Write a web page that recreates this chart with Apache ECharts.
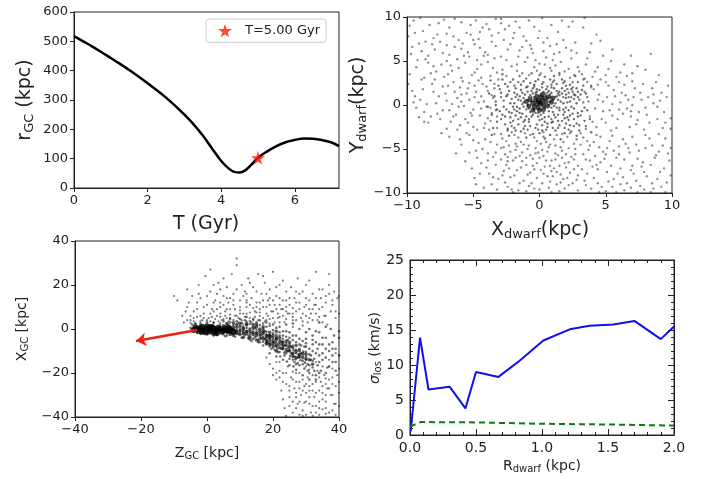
<!DOCTYPE html>
<html lang="en">
<head>
    <meta charset="UTF-8">
    <title>dwarf orbit panels</title>
    <script src="https://cdn.jsdelivr.net/npm/echarts@6/dist/echarts.min.js"></script>
    <style>
        html, body { margin: 0; padding: 0; background: #fff; }
        #main { width: 707px; height: 479px; }
    </style>
</head>
<body>
<div id="main"></div>
<script>
// panel 1: orbit r_GC(T)
var orbitT = [0, 0.25, 0.5, 0.75, 1, 1.25, 1.5, 1.75, 2, 2.25, 2.5, 2.75, 3, 3.25, 3.5, 3.75, 4, 4.2, 4.35, 4.5, 4.65, 4.8, 5, 5.25, 5.5, 5.75, 6, 6.25, 6.5, 6.75, 7, 7.2];
var orbitR = [518, 500, 482, 463, 443, 423, 402, 380, 357, 333, 308, 280, 250, 217, 179, 135, 92, 67, 55, 53, 60, 77, 103, 125, 143, 156, 164, 169, 168, 163, 155, 143];
var starT = 5.0;
var starR = 103;

// panel 2: particles in dwarf frame (x, y kpc)
var dwarfCore = [[0,0.3],[0.2,0.5],[-0.2,0.1],[0.3,0],[-0.3,0.6],[0.1,0.9],[-0.1,-0.3],[0.5,0.4],[-0.5,0.2],[0.4,0.8],[-0.4,-0.2],[0.6,-0.1],[0,-0.6],[-0.7,0.6],[0.7,0.9],[0.2,1.2],[-0.2,1],[-0.8,-0.1],[0.9,0.3],[0.3,-0.5],[-0.5,-0.6],[1,0.8],[-1,0.4],[0.1,0.1],[-0.1,0.5]];
var dwarfInner = [[-1.2,0.8],[-1.5,-0.4],[-0.9,1.5],[1.3,1.6],[1.8,0.9],[2.2,1.4],[2.6,0.7],[1.5,-0.3],[1.1,-1.1],[0.4,-1.4],[-0.6,-1.3],[-1.3,-1.0],[-1.9,0.2],[-2.3,-0.8],[-1.7,1.2],[-0.5,1.9],[0.6,2.1],[1.0,2.6],[2.0,2.2],[2.8,1.9],[3.1,1.2],[2.4,-0.2],[2.9,-0.9],[1.9,-1.5],[0.9,-2.0],[-0.2,-2.2],[-1.1,-2.4],[-2.0,-1.8],[-2.7,-0.2],[-2.5,1.0],[-1.4,2.3],[-0.3,2.7],[0.3,1.5],[0.8,1.2],[1.6,0.4],[-0.8,0.9],[-1.0,-0.5],[0.7,-0.7],[-0.3,-0.9],[1.2,0.2],[2.3,-1.2],[3.4,-1.8],[2.6,-2.4],[1.4,-2.6],[0.2,-2.9],[-0.9,-2.8],[-1.8,-2.9],[-2.9,-1.6],[-3.3,0.4],[-3.0,1.8],[-2.2,2.6],[-1.0,3.0],[0.4,3.2],[1.7,2.9],[2.5,2.6],[3.3,0.3],[3.6,-0.6],[3.0,-2.9],[1.9,-3.2],[0.8,-3.4],[-0.5,-3.3],[-2.4,-2.7],[-3.6,-1.1],[-3.8,1.3],[1.0,0.6],[0.5,1.8],[-0.6,0.4],[1.7,1.9],[2.1,0.3],[-1.6,-1.6],[0.0,-1.7],[1.4,-1.8],[-2.1,0.7],[-0.4,2.3],[2.7,1.1],[1.1,3.3],[-1.8,1.9],[-0.8,-1.9],[0.6,-2.5],[2.0,-2.1],[0.9,-0.3],[-0.7,-0.8],[1.5,1.1],[-1.3,0.1],[0.2,2.4],[2.4,1.8],[1.9,-0.8],[-0.1,-1.3],[-1.6,0.6],[0.4,-1.9],[1.2,-1.4],[-2.6,-1.3],[3.0,0.6],[-0.5,1.3],[1.8,2.5],[2.2,-1.7],[-1.2,-1.9],[-2.9,0.9],[0.9,2.3],[-1.9,-0.5],
    [-2.8,2.9],[-2.4,2.1],[-2.0,2.9],[-1.6,2.6],[-1.2,2.7],[-0.7,2.5],[-0.1,2.9],[0.3,2.6],[0.8,2.9],[1.3,2.4],[1.9,2.7],[2.3,2.3],[2.9,2.6],[-2.9,1.4],[-2.3,1.6],[-1.9,1.4],[-1.4,1.7],[-1.0,2.0],[-0.6,1.6],[-0.2,1.8],[0.2,2.0],[0.7,1.6],[1.1,1.9],[1.5,1.5],[2.1,1.8],[2.5,1.5],[2.9,1.5],[-2.7,0.5],[-2.2,0.2],[-1.8,0.9],[-1.4,0.5],[-1.1,1.2],[-0.7,1.1],[-0.3,1.4],[0.4,1.3],[0.9,1.4],[1.3,1.0],[1.7,1.3],[2.0,0.8],[2.4,0.9],[2.8,0.2],[-2.5,-0.5],[-2.0,-0.2],[-1.7,-0.7],[-1.2,-0.2],[-0.9,0.0],[1.1,-0.1],[1.4,0.6],[1.8,0.2],[2.2,-0.6],[2.6,-0.4],[-2.8,-1.1],[-2.2,-1.4],[-1.8,-1.2],[-1.4,-1.4],[-1.0,-1.3],[-0.5,-1.1],[-0.1,-0.9],[0.3,-0.9],[0.7,-1.3],[1.0,-0.8],[1.4,-1.1],[1.8,-1.1],[2.1,-1.4],[2.6,-1.6],[2.9,-1.3],[-2.6,-2.2],[-2.1,-2.4],[-1.6,-2.2],[-1.2,-2.7],[-0.7,-2.4],[-0.3,-2.6],[0.2,-2.3],[0.6,-2.1],[1.0,-2.6],[1.5,-2.3],[1.9,-2.6],[2.3,-2.3],[2.8,-2.1],[-2.4,-2.9],[-1.4,-3.0],[-0.1,-2.8],[1.2,-2.9],[2.4,-3.0],[0.6,0.8],[-0.9,0.6],[0.7,0.0],[-0.4,-0.5],[0.4,-0.3],[-0.6,0.9],[0.8,0.4],[-1.2,0.3],[1.2,0.9],[-0.2,1.5],[0.5,1.1],[-0.8,-0.4],[0.1,-1.1],[1.5,-0.6],[-1.5,1.0],[1.9,1.6],[2.3,0.4],[-2.1,-0.9],[-1.1,-1.7],[0.9,-1.6],[1.7,-1.8],[2.6,1.2],[-1.9,2.2],[-0.4,2.1],[0.9,2.0],[2.0,-0.3],[3.2,1.7],[3.4,-0.3],[3.1,-1.2],[3.6,0.9],[3.3,2.2],[-3.2,-0.5],[-3.4,1.0],[-3.1,2.2],[-3.2,-1.9],[3.5,-2.4],
    [-3.7,2.8],[-3.5,-2.6],[-3.9,-0.2],[-3.0,-0.7],[-2.6,2.4],[-2.2,-2.0],[-1.7,-0.2],[-1.3,1.4],[-0.8,-1.6],[-0.4,0.9],[0.2,-1.6],[0.6,1.4],[1.0,-1.9],[1.4,1.3],[1.8,-0.5],[2.2,0.9],[2.5,-1.0],[2.9,0.9],[3.2,-0.7],[3.5,1.3],[3.8,-1.6],[3.9,2.2],[3.4,3.0],[2.7,3.3],[1.5,3.6],[0.0,3.4],[-1.5,3.3],[-2.8,3.5],[-3.6,-3.4],[-2.3,-3.5],[-1.0,-3.7],[0.4,-3.8],[1.6,-3.9],[2.8,-3.5],[3.9,-3.1],[1.3,-0.3],[-1.5,-0.9],[0.0,1.7],[0.5,-2.8],[-0.9,2.1],[2.0,1.2],[-2.4,1.2],[2.5,2.0],[-1.9,-2.6],[1.1,2.8],[3.0,-2.3],[-3.3,0.0],[0.0,-3.2],[2.2,-2.8],[-0.6,3.6]];
var dwarfOuter = [[-9.5,9.6],[-8.8,8.4],[-7.6,9.3],[-6.4,9.8],[-5.2,9.1],[-9.1,7.0],[-8.0,7.6],[-7.0,8.1],[-6.1,7.4],[-5.5,8.2],[-4.3,8.8],[-3.6,7.9],[-9.7,5.8],[-8.6,5.2],[-7.9,6.3],[-6.8,5.7],[-5.9,6.4],[-4.9,6.9],[-4.1,6.0],[-3.3,6.7],[-9.3,4.3],[-8.2,3.6],[-7.4,4.6],[-6.6,3.9],[-5.6,4.8],[-4.7,4.1],[-3.9,4.9],[-3.2,3.7],[-7.2,3.2],[-5.1,3.4],[-4.4,3.1],[-6.2,5.2],[-4.2,5.6],[-8.4,4.8],[-5.8,7.0],[-3.4,5.3],[-7.0,6.8],[-9.9,7.8],[-4.6,7.5],[-3.8,8.6],[-2.9,9.3],
    [-9.8,9.0],[-9.0,9.9],[-8.3,9.1],[-7.2,9.7],[-6.8,8.8],[-5.9,9.4],[-4.8,9.6],[-4.0,9.2],[-3.3,9.8],[-9.4,8.2],[-8.6,7.2],[-7.7,8.0],[-6.5,7.8],[-5.2,8.0],[-4.5,8.3],[-3.1,8.2],[-9.6,6.6],[-8.9,6.1],[-8.1,6.9],[-7.3,5.9],[-6.4,6.6],[-5.4,6.0],[-4.5,6.5],[-3.6,7.2],[-9.2,5.1],[-8.0,4.4],[-7.0,5.0],[-6.1,4.2],[-5.3,5.5],[-4.4,4.6],[-3.5,4.2],[-9.8,3.5],[-8.7,3.1],[-7.8,3.8],[-6.9,3.5],[-5.9,3.1],[-4.9,3.7],[-3.7,3.3],[-7.5,7.2],[-5.0,7.4],[-3.9,5.7],[-6.7,4.5],[-8.4,5.6],[-4.7,5.1],[-5.7,5.6],
    [-2.6,8.6],[-1.8,9.5],[-1.2,7.8],[-0.4,8.9],[0.6,7.6],[1.4,8.3],[0.2,9.9],[-2.2,6.9],[-1.5,6.2],[-0.7,6.8],[0.3,6.1],[1.1,5.8],[2.0,6.5],[2.7,7.1],[-2.5,5.1],[-1.7,4.6],[-0.9,5.4],[0.0,4.7],[0.8,4.2],[1.6,4.9],[2.4,5.3],[2.9,4.3],[-2.8,4.0],[-1.3,3.6],[-0.2,3.9],[1.9,3.8],[2.6,3.4],[-0.5,5.9],[1.3,6.9],[2.2,8.9],[-2.0,7.6],
    [-2.9,9.8],[-2.3,9.0],[-1.5,8.8],[-0.8,9.6],[0.0,8.4],[0.9,9.1],[1.7,9.6],[2.5,9.5],[-2.7,7.4],[-1.9,8.2],[-1.0,7.3],[-0.1,7.6],[0.8,6.7],[1.8,7.4],[2.4,6.2],[-2.4,6.3],[-1.6,5.5],[-0.6,6.4],[0.5,5.4],[1.5,6.0],[2.8,5.9],[-2.9,5.5],[-2.1,4.4],[-1.1,4.9],[-0.4,4.3],[0.4,4.6],[1.2,4.5],[2.2,4.1],[-2.5,3.3],[-1.7,3.9],[-0.8,3.4],[0.1,3.6],[0.9,3.9],[1.5,3.4],[2.3,3.1],[3.0,3.8],[-0.3,5.1],[1.0,5.1],[-1.3,6.6],[0.3,7.1],
    [3.5,4.6],[4.2,3.8],[5.0,3.4],[3.8,6.0],[4.6,7.3],[6.1,3.7],[7.4,4.4],[3.3,8.8],[5.4,5.0],[8.4,5.8],[4.0,3.2],[6.6,3.3],
    [3.2,3.5],[3.6,5.3],[4.4,4.3],[5.2,4.1],[5.8,3.2],[4.8,5.6],[6.4,4.6],[7.0,3.6],[3.9,7.0],[5.5,6.3],[8.0,4.0],[9.0,3.4],[6.9,5.6],[4.3,8.0],[3.4,9.9],
    [-9.6,1.6],[-9.0,0.6],[-8.7,-0.8],[-8.1,2.4],[-7.8,0.2],[-7.5,-1.6],[-7.1,1.3],[-6.8,-0.6],[-6.5,2.6],[-6.2,0.8],[-6.0,-2.3],[-5.7,-0.1],[-5.4,1.9],[-5.1,-1.2],[-4.9,0.9],[-4.6,2.8],[-4.4,-0.4],[-4.1,-2.1],[-3.9,1.6],[-3.6,-0.9],[-3.4,2.4],[-3.2,-2.6],[-8.4,-2.0],[-9.3,-0.3],[-7.0,-2.7],[-5.9,1.2],[-4.7,-2.8],[-6.6,0.1],[-5.3,2.5],[-4.2,0.4],[-3.7,-1.8],[-7.3,2.1],[-8.9,2.9],[-6.3,-1.1],[-5.0,-0.5],[-4.0,2.1],[-3.5,0.8],
    [-9.9,2.4],[-9.4,1.0],[-9.1,-1.4],[-8.8,1.8],[-8.5,0.1],[-8.2,-1.3],[-7.9,2.9],[-7.6,1.0],[-7.3,-0.6],[-6.9,2.2],[-6.7,-1.9],[-6.4,1.5],[-6.1,-0.2],[-5.8,2.7],[-5.6,-1.6],[-5.3,0.6],[-5.0,-2.5],[-4.8,1.5],[-4.5,-1.2],[-4.3,2.4],[-4.0,-0.2],[-3.8,-2.8],[-3.6,1.1],[-3.3,-0.6],[-3.1,2.9],[-3.9,-1.5],[-4.6,0.3],[-5.2,-0.9],[-5.5,1.3],[-6.0,2.0],[-6.5,-1.3],[-7.0,0.5],[-7.7,-1.0],[-8.0,1.5],[-8.7,-1.9],[-9.5,0.3],[-3.4,1.9],[-3.7,-0.3],[-4.2,-2.6],[-4.9,2.2],[-5.4,-2.0],[-6.2,-2.8],[-3.2,-1.3],[-4.4,1.0],[-5.9,0.4],
    [3.6,2.6],[4.1,1.8],[4.4,0.6],[4.8,-0.7],[5.2,2.2],[5.5,0.1],[5.9,-1.6],[6.2,1.4],[6.6,-0.4],[7.0,2.7],[7.3,-2.2],[7.7,0.6],[8.1,-1.1],[8.5,1.9],[8.9,-0.2],[9.3,-2.6],[9.6,0.9],[9.9,-1.5],[3.8,-1.3],[4.3,-2.5],[5.0,-2.0],[5.7,1.0],[6.4,2.3],[6.9,-1.3],[7.9,-2.8],[8.6,0.2],[9.2,1.4],[3.4,1.5],[4.6,2.9],[5.4,-2.9],[6.0,-0.5],[7.1,0.9],
    [3.3,2.9],[3.7,0.4],[3.9,2.0],[4.2,-0.4],[4.5,1.2],[4.7,-1.6],[5.0,2.6],[5.3,-0.6],[5.6,1.7],[5.8,-2.6],[6.1,0.3],[6.3,-1.0],[6.5,1.1],[6.8,-2.5],[7.0,0.0],[7.2,1.9],[7.5,-0.8],[7.8,2.4],[8.0,-0.3],[8.3,-2.0],[8.6,1.2],[8.9,-1.6],[9.1,0.5],[9.4,-0.8],[9.7,2.2],[9.9,-2.7],[4.0,-1.9],[4.8,0.4],[5.5,-1.2],[6.0,2.6],[6.7,0.6],[7.4,-1.7],[8.2,0.9],[8.8,2.6],[9.5,-2.0],[3.5,-2.7],[4.4,2.3],[5.1,0.9],[6.9,-0.7],[7.6,1.4],
    [-6.8,-3.6],[-5.9,-4.5],[-5.3,-3.4],[-4.8,-5.2],[-4.4,-6.6],[-4.1,-3.9],[-3.8,-7.8],[-3.5,-5.9],[-3.2,-4.5],[-5.6,-6.4],[-4.9,-8.3],[-4.2,-9.4],[-3.6,-9.0],[-6.3,-5.5],[-3.3,-6.8],[-5.1,-7.2],[-4.6,-4.3],[-3.9,-5.5],[-7.4,-3.2],[-3.1,-8.4],
    [-5.5,-3.2],[-5.0,-4.0],[-4.3,-5.0],[-3.7,-4.2],[-3.4,-3.3],[-4.7,-6.0],[-4.0,-7.1],[-3.5,-8.2],[-3.2,-9.6],[-4.5,-7.8],[-5.3,-5.4],[-6.0,-3.9],[-3.9,-6.3],[-3.3,-5.4],[-4.8,-9.0],
    [-2.8,-3.8],[-2.3,-4.6],[-1.9,-3.4],[-1.4,-4.2],[-0.9,-5.0],[-0.4,-3.7],[0.1,-4.4],[0.6,-5.3],[1.1,-3.9],[1.6,-4.8],[2.1,-3.6],[2.6,-4.4],[-2.6,-5.6],[-2.0,-6.3],[-1.5,-5.8],[-1.0,-6.8],[-0.5,-6.1],[0.0,-6.0],[0.4,-7.0],[0.9,-6.3],[1.4,-5.7],[1.9,-6.6],[2.4,-5.9],[2.9,-6.9],[-2.7,-7.5],[-2.2,-8.2],[-1.7,-7.4],[-1.2,-8.6],[-0.7,-7.7],[-0.2,-8.3],[0.3,-7.8],[0.8,-8.7],[1.3,-7.6],[1.8,-8.4],[2.3,-7.7],[2.8,-8.5],[-2.4,-9.3],[-1.6,-9.7],[-0.8,-9.2],[0.0,-9.6],[0.7,-9.4],[1.5,-9.8],[2.2,-9.1],[2.9,-9.7],[-1.1,-3.2],[0.3,-3.1],[1.7,-3.3],[-2.9,-4.9],[2.7,-5.0],[-0.3,-4.9],[1.2,-4.6],[-1.8,-5.1],[2.0,-7.1],[-2.5,-6.8],[0.5,-6.3],[-0.6,-8.9],[1.0,-8.1],[-2.0,-9.9],
    [-2.9,-3.3],[-2.5,-4.1],[-2.1,-3.1],[-1.6,-3.7],[-1.2,-4.5],[-0.7,-3.4],[-0.2,-4.1],[0.3,-3.6],[0.8,-4.5],[1.3,-3.4],[1.8,-4.2],[2.3,-3.2],[2.8,-3.9],[-2.7,-4.8],[-2.2,-5.3],[-1.7,-4.7],[-1.3,-5.4],[-0.8,-4.6],[-0.3,-5.5],[0.2,-5.1],[0.7,-4.8],[1.2,-5.5],[1.7,-5.2],[2.2,-4.9],[2.7,-5.6],[-2.9,-6.2],[-2.4,-6.4],[-1.8,-6.0],[-1.3,-6.4],[-0.7,-5.7],[-0.2,-6.6],[0.3,-5.8],[0.8,-6.9],[1.2,-6.2],[1.7,-6.0],[2.2,-6.5],[2.6,-6.2],[-2.8,-8.0],[-2.3,-7.2],[-1.9,-8.0],[-1.4,-7.1],[-0.9,-7.9],[-0.4,-7.3],[0.1,-7.4],[0.6,-8.1],[1.1,-7.2],[1.6,-7.9],[2.1,-8.3],[2.6,-7.3],[-2.6,-8.8],[-2.1,-9.6],[-1.5,-8.9],[-1.0,-9.8],[-0.4,-9.5],[0.2,-8.9],[0.9,-9.9],[1.3,-9.0],[1.9,-9.5],[2.5,-8.9],[2.9,-8.0],[-0.1,-5.4],[0.5,-4.2],[1.5,-6.9],[-1.0,-6.0],[2.0,-5.6],[-1.8,-4.4],[0.9,-7.5],[-2.4,-5.9],[1.6,-8.8],[-0.5,-6.9],
    [3.3,-3.7],[3.8,-4.6],[4.3,-3.4],[4.8,-5.3],[5.3,-4.1],[5.8,-6.0],[6.3,-3.9],[6.8,-5.4],[7.3,-4.5],[7.8,-6.5],[8.3,-3.8],[8.8,-5.7],[9.3,-4.6],[9.8,-6.3],[3.5,-6.2],[4.0,-7.0],[4.6,-6.5],[5.1,-7.6],[5.6,-8.4],[6.1,-7.2],[6.6,-8.9],[7.1,-7.8],[7.6,-9.2],[8.1,-8.1],[8.6,-9.5],[9.1,-7.6],[9.6,-8.8],[3.4,-8.6],[3.9,-9.5],[4.4,-8.9],[5.0,-9.8],[5.5,-9.3],[6.4,-9.7],[7.4,-9.9],[8.4,-9.9],[9.5,-9.9],[3.7,-5.1],[4.5,-4.8],[5.6,-5.2],[7.0,-6.9],[8.0,-4.9],[9.0,-3.3],[6.0,-4.7],[4.2,-5.8],[3.2,-7.3],
    [3.1,-3.2],[3.6,-4.1],[4.1,-4.2],[4.6,-3.6],[5.1,-4.9],[5.5,-3.5],[6.0,-5.6],[6.5,-4.4],[7.0,-3.6],[7.5,-5.2],[8.0,-3.4],[8.5,-4.6],[9.0,-5.3],[9.5,-3.8],[9.9,-4.9],[3.3,-5.6],[3.8,-6.3],[4.4,-7.3],[4.9,-6.1],[5.4,-6.9],[5.9,-7.8],[6.4,-6.2],[6.9,-7.4],[7.4,-6.1],[7.9,-7.6],[8.4,-6.8],[8.9,-8.4],[9.4,-7.2],[9.9,-8.0],[3.6,-7.8],[4.1,-8.3],[4.7,-9.3],[5.2,-8.7],[5.8,-9.9],[6.3,-8.2],[6.9,-9.4],[7.3,-8.6],[7.9,-9.6],[8.5,-8.9],[9.2,-9.3],[3.5,-9.1],[4.5,-9.9],[6.1,-9.0],[7.7,-7.0],[8.7,-6.0],[9.7,-5.5],[5.0,-5.6],[6.7,-4.9],[4.3,-6.8],[3.1,-4.5]];

// panel 3: particles in galactocentric frame (Z, X kpc)
var gcCore = [[-3,0],[-2,0.5],[-1,-0.3],[0,0.2],[1,-0.5],[2,0.3],[3,-0.4],[4,0],[5,-0.6],[-2.5,-0.8],[-1.5,1],[0.5,-1.2],[1.5,0.9],[2.5,-1.1],[3.5,0.7],[-0.5,-1.5],[4.5,-1.3],[6,-0.8],[-3.5,0.8],[0,1.3],[7,-0.5],[2,-1.7],[-4,-0.5],[1,0.8],[5.5,0.3],[3,-1.8],[-1.5,-1.2],[6.5,0.5],[8,-1.2]];
var gcBand = [[6,0.5],[7,-1.5],[8,0.8],[9,-1],[10,-2.5],[10,1.2],[11,-0.5],[12,-2],[13,0],[13,-3.5],[14,-1.5],[15,-3],[15,1],[16,-4.5],[17,-2],[18,-4],[17,0],[19,-5.5],[12,1.8],[8,-2.8],[9,2],[14,2],[11,-3.8],[16,-1],[18,-6.5],[20,-5],[20,-7.5],[21,-3.5],[22,-8.5],[23,-6],[24,-10],[25,-8],[26,-11],[27,-13],[28,-11.5],[21,-10],[19,-3],[15,-5],
    [5,1.5],[6,-1.2],[7,1],[8,-0.3],[9,0.8],[10,-0.8],[11,0.3],[12,-1.2],[13,-1],[14,-2.5],[14,0.8],[15,-2],[16,-2.3],[16,0],[17,-4.5],[17,-1.2],[18,-3],[18,-5.5],[19,-4],[19,-7],[20,-3],[20,-6.3],[21,-6.8],[21,-4.5],[22,-6],[22,-4],[23,-7.5],[23,-9],[24,-7.5],[24,-5.5],[25,-10],[25,-6],[26,-8.5],[26,-12.5],[27,-10.2],[27,-7.5],[28,-12.5],[28,-9.8],[29,-13],[29,-11],[30,-13.5],[30,-11.5],[31,-14],[32,-16],[13,-4.5],[11,-2],[9,-2],[7,-2.5],[12,2.5],[10,2.5],[15,2],[17,1],[19,-1.5],[21,-1],[8,2.8],[6,2.5]];
var gcStream = [[16,-6],[17,-7.5],[18,-2.5],[18.5,-6.5],[19,-8],[19.5,-3.5],[20,-6],[20.5,-9.5],[21,-4.5],[21.5,-7.5],[22,-10.5],[22.5,-5.5],[23,-8.5],[23.5,-12],[24,-6.5],[24.5,-10],[25,-13.5],[25.5,-8],[26,-11.5],[26.5,-15],[27,-9.5],[27.5,-13],[28,-16.5],[28.5,-11],[29,-14.5],[29.5,-18],[30,-12.5],[30.5,-16],[31,-20],[31.5,-14],[32,-17.5],[33,-21],[20,-2],[22,-3],[24,-3.5],[26,-5],[28,-7],[30,-8],[32,-10],[34,-12],[19,-11],[21,-12.5],[23,-14],[25,-16.5],[27,-18.5],[29,-21],[31,-23],[17.5,-4.5],[19.2,-6.8],[21.3,-9],[23.4,-10.8],[25.2,-12.2],[26.8,-13.8],[28.3,-14.2],[29.7,-15.3],[22.7,-7],[24.6,-8.7],[26.3,-9.7],[15.5,-5.2],[14.5,-3.8],[13.5,-5.5],[12.5,-4.2],[11.5,-2.8],[10.5,-4],[16.5,-2.8],[18.2,-5.2],[20.8,-7.8],[22.2,-12.5],[24.2,-14.8],[26.2,-17],[27.8,-11.8],[29.2,-10.2],[31,-11.5],[32.5,-13.5],[33.5,-16.5],[34.5,-19],[35,-14],[36,-9],[33,-6],[35,-4],[37,-7],[38,-12],[36.5,-17.5],[39,-15],[38.5,-3],[37.5,0],[34,-1.5],[32,-3],[30,-4.5],[27,-3],[25,-1.5],[23,-1],[21,0.5],[19,1.5],[17,2.5],[15,3],[13,3.5],
    [5,-2.5],[6,-3],[6.5,2],[7,3],[7.5,-2],[8,1.8],[8.5,-3.5],[9,3.5],[9.5,-2.2],[10,0],[10.5,2.8],[11,-1.5],[11.5,4],[12,-0.8],[12.5,-3],[13,2.3],[13.5,-1.8],[14,-4.5],[14.5,0.5],[15,-1.5],[15.5,-6],[16,1.8],[16.5,-4],[17,-5.8],[17.5,-1],[18,-7],[18,1],[18.5,-3],[19,-4.5],[19.5,-9],[20,-0.5],[20,-4],[20.5,-6],[21,-2.5],[21,-8],[21.5,-10.5],[22,-5],[22,-7],[22.5,-9],[23,-3],[23,-6],[23.5,-7.5],[24,-11],[24,-1],[24.5,-5],[25,-7],[25,-9.5],[25.5,-11],[26,-3],[26,-7.5],[26.5,-12.5],[27,-6],[27,-11],[27.5,-15.5],[28,-9],[28,-13],[28.5,-7.5],[29,-12],[29,-16],[29.5,-8],[30,-10.5],[30,-14],[30.5,-19],[31,-9],[31,-16.5],[31.5,-12],[32,-14.5],[32,-7],[32.5,-19],[33,-11],[33,-23],[33.5,-9],[34,-15],[34,-20],[35,-11],[35,-7],[36,-13],[36,-20],[37,-10],[37,-17],[38,-6],[38,-15],[39,-9],[39,-19],[40,-12],[40,-4],[9,-0.5],[11,1],[13,-2.2],[15,-0.3],[16,-3.2],[17,-3.5],[18,-1.2],[19,-2.8],[20,-8.5],[21,-5.5],[22,-1.5],[23,-4.5],[24,-9],[25,-4],[26,-14],[27,-16],[28,-4.5],[29,-5.5],[30,-6.5],[12,0.5],[14,-0.2],[10,-1.3],[7.5,0.2],[8.5,-1.8],[6.5,-1.8],[5.5,-3.3],[3,-2.8],[2,-3],[0,-2.5],[-2,-2.2],[-3,-1.8],[-4,-1],[-5,0.5],[-4.5,2],[-3.5,2.5],[-2,2.5],[0,3],[2,2.8],[4,2.5],[5,3.5],[7,4.5],[10,4.5],[12,5.5],[14,4.5],[16,4],[18,3],[20,2],[22,1],[24,2],[26,2.5],[28,0],[30,-1.5],[32,-5],[34,-7],[36,-4],[38,-9],[40,-1],[36,1],[34,3],[31,0],[33,-1]];
var gcUpper = [[-7,3],[-6.5,8],[-5.5,12],[-6,18],[-4,5],[-3,9],[-2,14],[-1.5,4],[-4.5,15],[-10,15],[-9,13],[-2.5,20],[-1,7],[0,11],[0.5,5],[1,17],[1.5,9],[2,3],[2.5,13],[3,6],[3.5,21],[4,10],[4.5,4],[5,15],[5.5,8],[6,19],[6.5,12],[7,5],[7.5,25],[8,16],[8.5,9],[9,32],[9,29],[9.5,3],[10,13],[10.5,20],[11,7],[11.5,17],[12,10],[12.5,23],[13,5],[13.5,14],[14,19],[14.5,8],[15,12],[15.5,25],[16,6],[16.5,16],[17,10],[17.5,21],[18,4],[18.5,13],[19,18],[19.5,8],[20,26],[20.5,11],[21,15],[21.5,5],[22,20],[22.5,9],[23,13],[23.5,3],[24,17],[24.5,7],[25,11],[25.5,19],[26,4],[26.5,14],[27,8],[27.5,23],[28,12],[28.5,5],[29,17],[29.5,10],[30,20],[30.5,3],[31,13],[31.5,7],[32,16],[32.5,11],[33,26],[33.5,4],[34,9],[34.5,14],[35,18],[35.5,6],[36,12],[36.5,2],[37,16],[37.5,8],[38,11],[38.5,17],[39,5],[39.5,14],[1,27],[-0.5,24],[4,18],[7,14],[11,2],[19,2.5],[26,1],[29,1.5],[-5,6],[-3.5,2.5],[6,2],[12,13],[15,7.5],[22,3],[35,3],[40,7],
    [-7.5,6],[-6,10],[-5,4],[-4,8],[-3,12],[-2,6],[-1,10],[0,15],[1,7],[2,12],[3,16],[4,7],[5,11],[6,5],[7,9],[8,13],[9,6],[10,10],[11,15],[12,7],[13,11],[14,4],[15,17],[16,9],[17,13],[18,7],[19,11],[20,5],[21,9],[22,14],[23,6],[24,10],[25,14],[26,7],[27,12],[28,16],[29,7],[30,11],[31,5],[32,9],[33,14],[34,18],[35,10],[36,6],[37,20],[38,13],[39,8],[40,15],[3,9],[6,14],[9,18],[12,16],[15,10],[18,16],[21,19],[24,13],[27,17],[30,14],[33,7],[36,15],[-2.5,16],[2,20],[5,23],[13,21],[17,24],[23,22],[31,22],[37,25],[26,9.5],[19,14],
    [-6,4],[-5,2.8],[-4,3.5],[-3,5.5],[-2,3.5],[-1,5],[0,4],[1,3.5],[1.5,5.5],[2.5,4.5],[3.5,3.5],[4,5.5],[5,4.5],[5.5,6],[6.5,3.5],[7,6.5],[8,4],[8.5,6],[9.5,5],[10,7],[10.5,4],[11.5,5.5],[12,3.5],[13,7.5],[13.5,3],[14.5,5.5],[15.5,4],[16,7.5],[17,5],[17.5,3.5],[18.5,6],[19,4.5],[20,8],[20.5,3],[21.5,7],[22,5.5],[23,9],[24,4.5],[25,7],[26,5.5],[27,4],[28,9],[29,3.5],[30,6],[31,9],[32,4],[33,11],[34,5.5],[2,8],[4,12],[6,9],[8,11],[10,8.5],[12,12],[14,9.5],[16,12],[18,10],[20,13],[22,11],[24,8]];
var gcTail = [[20,-18],[21,-23],[22,-15],[22.5,-28],[23,-20],[23.5,-36],[24,-25],[24.5,-17],[25,-31],[25.5,-22],[26,-38],[26.5,-27],[27,-20],[27.5,-34],[28,-24],[28.5,-30],[29,-37],[29.5,-26],[30,-33],[30.5,-22],[31,-28],[31.5,-38],[32,-25],[32.5,-31],[33,-35],[33.5,-19],[34,-28],[34.5,-24],[35,-32],[35.5,-21],[36,-36],[36.5,-27],[37,-23],[37.5,-30],[38,-18],[38.5,-34],[39,-26],[39.5,-21],[40,-29],[28,-39],[30,-39],[32,-39.5],[34,-39],[36,-38.5],[24,-39.5],[26,-33],[28,-27],[30,-29],[32,-21],[34,-33],[36,-25],[38,-22],[31,-34],[29,-23],[27,-29],[25,-26],[23,-32],[21,-20],[33,-15],[35,-17],[37,-14],[39,-11],[40,-18],[36,-30],[38,-37],[27,-24],[31,-18.5],[29.5,-33.5],[33,-29],[35,-36.5],
    [18,-13],[19,-16],[20,-21],[21,-15],[22,-19],[23,-24],[24,-20],[25,-28],[26,-23],[27,-31],[28,-20],[29,-28],[30,-25],[31,-31],[32,-28],[33,-24],[34,-36],[35,-26],[36,-33],[37,-27],[38,-30],[39,-34],[40,-24],[27,-36],[29,-39.5],[33,-38],[37,-38],[25,-35],[31,-26],[35,-29],[39,-39],[22,-22],[30,-17],[34,-22],[38,-25],[40,-35],[26,-19.5],[28,-33],[32,-35],[36,-22.5]];
// velocity arrow (Z, X)
var arrowFrom = [-3, -0.5];
var arrowTo = [-21.5, -5.5];

// panel 4: velocity dispersion profiles
var sigmaR = [0.005, 0.076, 0.14, 0.30, 0.42, 0.50, 0.67, 0.83, 1.01, 1.21, 1.36, 1.54, 1.70, 1.90, 2.0];
var sigmaLos = [0.5, 13.9, 6.5, 6.9, 3.8, 9.0, 8.3, 10.6, 13.5, 15.1, 15.6, 15.8, 16.3, 13.7, 15.5];
var modelR = [0, 0.08, 0.5, 1.0, 1.5, 2.0];
var modelSigma = [1.2, 1.85, 1.8, 1.6, 1.5, 1.35];

var starPath = 'path://M50,0 L61,35 L98,35 L68,57 L79,91 L50,70 L21,91 L32,57 L2,35 L39,35 Z';
var FONT = 'DejaVu Sans';

function minus(v) {
    return String(v).replace('-', '\u2212');
}

function pairs(xs, ys) {
    return xs.map(function (x, i) { return [x, ys[i]]; });
}

// plain matplotlib-like axis, ticks outside
function mplAxis(grid, min, max, interval, extra) {
    var a = {
        gridIndex: grid, type: 'value', min: min, max: max, interval: interval,
        axisLine: { show: true, onZero: false, lineStyle: { color: '#222', width: 1 } },
        axisTick: { show: true, length: 4, lineStyle: { color: '#222' } },
        axisLabel: { color: '#222', fontSize: 13, fontFamily: FONT, margin: 6, formatter: minus },
        splitLine: { show: false }
    };
    for (var k in extra) a[k] = extra[k];
    return a;
}

function scatterSet(xi, data, size, color) {
    return {
        type: 'scatter', xAxisIndex: xi, yAxisIndex: xi, data: data,
        symbolSize: size, itemStyle: { color: color }, silent: true
    };
}

function label(x, y, rot, text, rich) {
    return {
        type: 'text', x: x, y: y, rotation: rot, silent: true,
        style: { text: text, rich: rich, align: 'center', verticalAlign: 'middle', fill: '#222' }
    };
}

var bigRich = {
    a: { fontSize: 19, fontFamily: FONT, fill: '#222' },
    s: { fontSize: 13, fontFamily: FONT, fill: '#222', padding: [9, 0, 0, 0] }
};
var smallRich = {
    a: { fontSize: 14, fontFamily: FONT, fill: '#222' },
    i: { fontSize: 14, fontFamily: FONT, fontStyle: 'italic', fill: '#222' },
    s: { fontSize: 10, fontFamily: FONT, fill: '#222', padding: [7, 0, 0, 0] }
};

var innerTick = { show: true, inside: true, length: 6, lineStyle: { color: '#222' } };
var innerMinor = { show: true, splitNumber: 5, length: 3, lineStyle: { color: '#222' } };

var myChart = echarts.init(document.getElementById('main'), null, { renderer: 'canvas' });

var option = {
    animation: false,
    backgroundColor: '#fff',
    grid: [
        { left: 74, top: 12, width: 265, height: 176, show: true, borderColor: '#222', borderWidth: 1 },
        { left: 407, top: 17, width: 265, height: 176, show: true, borderColor: '#222', borderWidth: 1 },
        { left: 75, top: 241, width: 264, height: 176, show: true, borderColor: '#222', borderWidth: 1 },
        { left: 410, top: 260, width: 264, height: 175, show: true, borderColor: '#222', borderWidth: 1 }
    ],
    xAxis: [
        mplAxis(0, 0, 7.2, 2, { axisLabel: { color: '#222', fontSize: 13, fontFamily: FONT, margin: 6, showMaxLabel: false } }),
        mplAxis(1, -10, 10, 5),
        mplAxis(2, -40, 40, 20),
        mplAxis(3, 0, 2, 0.5, {
            axisTick: innerTick, minorTick: innerMinor,
            axisLabel: { color: '#222', fontSize: 14, fontFamily: FONT, margin: 6, formatter: function (v) { return v.toFixed(1); } }
        }),
        mplAxis(3, 0, 2, 0.5, { position: 'top', axisTick: innerTick, minorTick: innerMinor, axisLabel: { show: false } })
    ],
    yAxis: [
        mplAxis(0, 0, 600, 100),
        mplAxis(1, -10, 10, 5),
        mplAxis(2, -40, 40, 20),
        mplAxis(3, 0, 25, 5, {
            axisTick: innerTick, minorTick: innerMinor,
            axisLabel: { color: '#222', fontSize: 14, fontFamily: FONT, margin: 6 }
        }),
        mplAxis(3, 0, 25, 5, { position: 'right', axisTick: innerTick, minorTick: innerMinor, axisLabel: { show: false } })
    ],
    legend: {
        data: [{ name: 'T=5.00 Gyr', icon: starPath }],
        left: 206, top: 19,
        itemWidth: 14, itemHeight: 14,
        padding: [5, 6, 5, 12],
        backgroundColor: 'rgba(255,255,255,0.8)',
        borderColor: '#cccccc', borderWidth: 1, borderRadius: 3,
        textStyle: { fontSize: 13, fontFamily: FONT, color: '#222', padding: [0, 0, 0, 8] },
        selectedMode: false
    },
    series: [
        {
            type: 'line', xAxisIndex: 0, yAxisIndex: 0, data: pairs(orbitT, orbitR),
            showSymbol: false, smooth: 0.4, lineStyle: { color: '#000', width: 2.5 }, silent: true
        },
        {
            type: 'scatter', name: 'T=5.00 Gyr', xAxisIndex: 0, yAxisIndex: 0, data: [[starT, starR]],
            symbol: starPath, symbolSize: 14, itemStyle: { color: '#ff1a00' }, z: 5
        },
        scatterSet(1, dwarfOuter, 2.4, 'rgba(0,0,0,0.55)'),
        scatterSet(1, dwarfInner, 2.4, 'rgba(0,0,0,0.7)'),
        scatterSet(1, dwarfCore, 5, 'rgba(0,0,0,0.85)'),
        scatterSet(2, gcUpper, 2.2, 'rgba(0,0,0,0.65)'),
        scatterSet(2, gcTail, 2.2, 'rgba(0,0,0,0.65)'),
        scatterSet(2, gcStream, 2.6, 'rgba(0,0,0,0.7)'),
        scatterSet(2, gcBand, 3.6, 'rgba(0,0,0,0.8)'),
        {
            type: 'scatter', xAxisIndex: 2, yAxisIndex: 2, data: gcCore,
            symbolSize: 6, itemStyle: { color: '#000' }, silent: true,
            markLine: {
                silent: true, symbol: ['none', 'arrow'], symbolSize: 10, animation: false,
                label: { show: false },
                lineStyle: { color: '#f02010', width: 2.5, type: 'solid' },
                data: [[{ coord: arrowFrom }, { coord: arrowTo }]]
            }
        },
        {
            type: 'line', xAxisIndex: 3, yAxisIndex: 3, data: pairs(sigmaR, sigmaLos),
            showSymbol: false, lineStyle: { color: '#1010f0', width: 2 }, silent: true
        },
        {
            type: 'line', xAxisIndex: 3, yAxisIndex: 3, data: pairs(modelR, modelSigma),
            showSymbol: false, lineStyle: { color: '#0a7d0a', width: 2, type: [6, 4] }, silent: true
        }
    ],
    graphic: [
        label(206, 224, 0, '{a|T (Gyr)}', bigRich),
        label(25, 100, Math.PI / 2, '{a|r}{s|GC}{a| (kpc)}', bigRich),
        label(540, 230, 0, '{a|X}{s|dwarf}{a|(kpc)}', bigRich),
        label(358, 105, Math.PI / 2, '{a|Y}{s|dwarf}{a|(kpc)}', bigRich),
        label(207, 453, 0, '{a|Z}{s|GC}{a| [kpc]}', smallRich),
        label(22, 329, Math.PI / 2, '{a|X}{s|GC}{a| [kpc]}', smallRich),
        label(542, 466, 0, '{a|R}{s|dwarf}{a| (kpc)}', smallRich),
        label(375, 348, Math.PI / 2, '{i|σ}{s|los}{a| (km/s)}', smallRich)
    ]
};

myChart.setOption(option);
</script>
</body>
</html>
